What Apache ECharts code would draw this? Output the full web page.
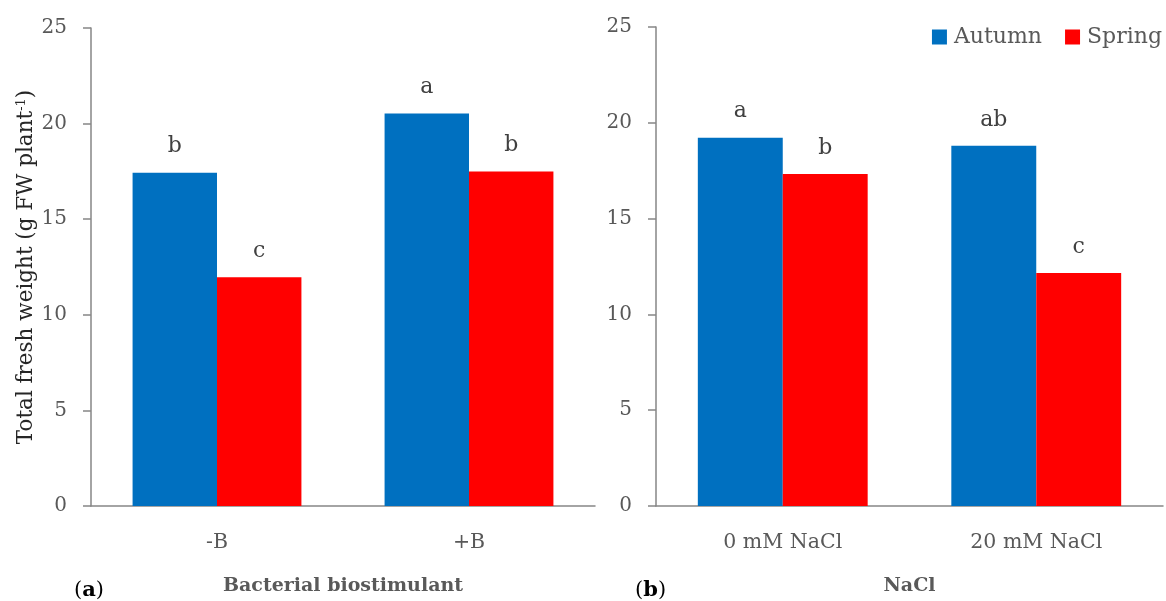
<!DOCTYPE html>
<html>
<head>
<meta charset="utf-8">
<script src="https://cdn.jsdelivr.net/npm/echarts@6/dist/echarts.min.js"></script>
<style>
html,body{margin:0;padding:0;background:#fff;}
#main{width:1166px;height:601px;}
</style>
</head>
<body>
<div id="main"></div>
<script>
// Data
var categoriesA = ['-B', '+B'];
var autumnA = [17.43, 20.53];
var springA = [11.96, 17.49];
var lettersAutumnA = ['b', 'a'];
var lettersSpringA = ['c', 'b'];

var categoriesB = ['0 mM NaCl', '20 mM NaCl'];
var autumnB = [19.22, 18.80];
var springB = [17.33, 12.16];
var lettersAutumnB = ['a', 'ab'];
var lettersSpringB = ['b', 'c'];

var yTicks = [0, 5, 10, 15, 20, 25];
var seriesNames = ['Autumn', 'Spring'];

var FONT = '"DejaVu Serif", "Liberation Serif", serif';
var GREY = '#595959';
var AXIS = '#868686';
var BLUE = '#0070C0';
var RED = '#FF0000';

function yAxisCfg(gridIndex, withName) {
  var cfg = {
    type: 'value', gridIndex: gridIndex, min: yTicks[0], max: yTicks[yTicks.length - 1], interval: 5,
    axisLine: { show: true, lineStyle: { color: AXIS, width: 1.5 } },
    axisTick: { show: true, length: 8, lineStyle: { color: AXIS, width: 1.5 } },
    splitLine: { show: false },
    axisLabel: { color: GREY, fontFamily: FONT, fontSize: 20, margin: 24 }
  };
  if (withName) {
    cfg.name = 'Total fresh weight (g FW plant{sup|-1})';
    cfg.nameLocation = 'middle';
    cfg.nameGap = 53;
    cfg.nameTextStyle = {
      color: '#262626', fontFamily: FONT, fontSize: 21.5,
      rich: { sup: { fontSize: 13, fontFamily: FONT, color: '#262626', verticalAlign: 'top', padding: [0, 0, 10, 0] } }
    };
  }
  return cfg;
}

function xAxisCfg(gridIndex, cats, name) {
  return {
    type: 'category', gridIndex: gridIndex, data: cats,
    axisLine: { show: true, lineStyle: { color: AXIS, width: 1.5 } },
    axisTick: { show: false },
    axisLabel: { color: GREY, fontFamily: FONT, fontSize: 20.5, margin: 26 },
    name: name, nameLocation: 'middle', nameGap: 71,
    nameTextStyle: { color: GREY, fontFamily: FONT, fontSize: 19, fontWeight: 'bold' }
  };
}

function labelCfg(letters) {
  return {
    show: true, position: 'top', distance: 15,
    color: '#404040', fontFamily: FONT, fontSize: 22,
    formatter: function (p) { return letters[p.dataIndex]; }
  };
}

function barSeries(name, xi, data, color, letters) {
  return {
    name: name, type: 'bar', xAxisIndex: xi, yAxisIndex: xi, data: data,
    barGap: '0%', barCategoryGap: '33%',
    itemStyle: { color: color },
    label: labelCfg(letters),
    emphasis: { disabled: true }
  };
}

var chart = echarts.init(document.getElementById('main'), null, { renderer: 'canvas' });
chart.setOption({
  animation: false,
  backgroundColor: '#ffffff',
  textStyle: { fontFamily: FONT },
  legend: {
    data: seriesNames, right: -1, top: 21, icon: 'rect', itemWidth: 15, itemHeight: 15, itemGap: 23,
    textStyle: { color: GREY, fontFamily: FONT, fontSize: 22, padding: [0, 0, 0, 2] }
  },
  grid: [
    { left: 91, top: 28, width: 504, height: 483 },
    { left: 656, top: 27, width: 507, height: 483 }
  ],
  xAxis: [ xAxisCfg(0, categoriesA, 'Bacterial biostimulant'), xAxisCfg(1, categoriesB, 'NaCl') ],
  yAxis: [ yAxisCfg(0, true), yAxisCfg(1, false) ],
  series: [
    barSeries(seriesNames[0], 0, autumnA, BLUE, lettersAutumnA),
    barSeries(seriesNames[1], 0, springA, RED, lettersSpringA),
    barSeries(seriesNames[0], 1, autumnB, BLUE, lettersAutumnB),
    barSeries(seriesNames[1], 1, springB, RED, lettersSpringB)
  ],
  graphic: [
    { type: 'text', left: 74, top: 580,
      style: { text: '({b|a})', fill: '#000', font: '21px ' + FONT,
        rich: { b: { fontWeight: 'bold', fontSize: 21, fontFamily: FONT, fill: '#000' } } } },
    { type: 'text', left: 635, top: 580,
      style: { text: '({b|b})', fill: '#000', font: '21px ' + FONT,
        rich: { b: { fontWeight: 'bold', fontSize: 21, fontFamily: FONT, fill: '#000' } } } }
  ]
});
</script>
</body>
</html>
